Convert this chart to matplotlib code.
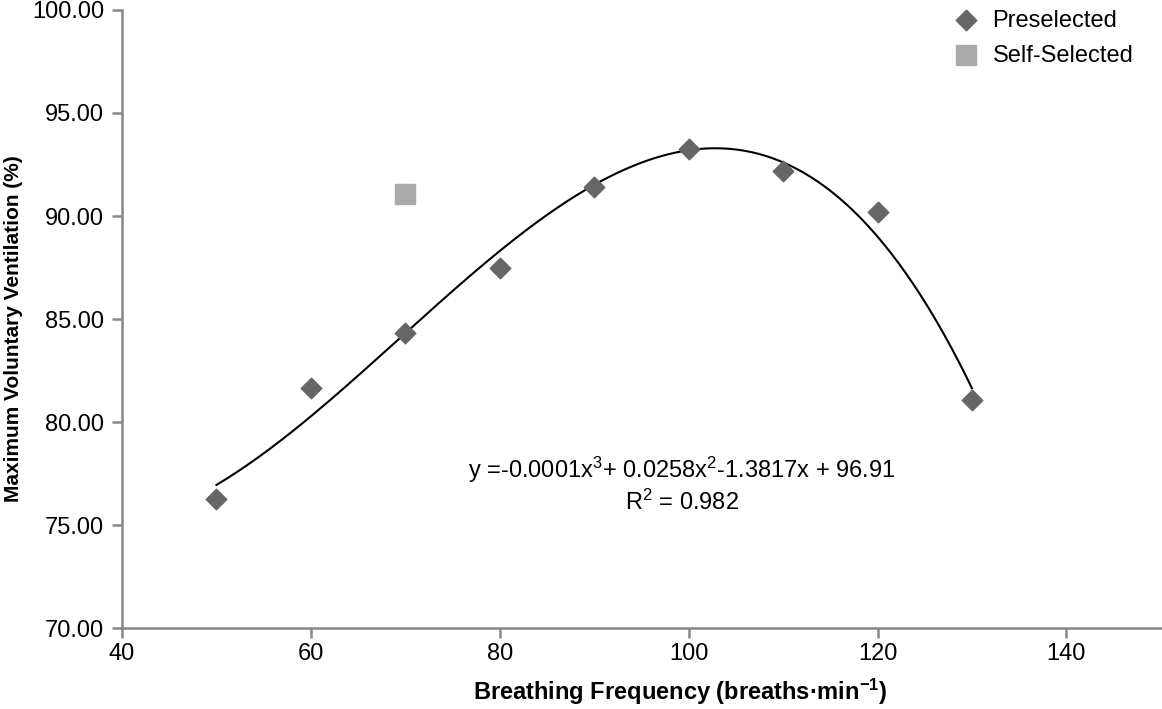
import numpy as np
import matplotlib.pyplot as plt

plt.rcParams['font.family'] = ['Liberation Sans', 'DejaVu Sans']
plt.rcParams['mathtext.fontset'] = 'custom'
plt.rcParams['mathtext.rm'] = 'Liberation Sans'
plt.rcParams['mathtext.it'] = 'Liberation Sans'
plt.rcParams['mathtext.bf'] = 'Liberation Sans:bold'

# Preselected breathing frequencies and % MVV
freq = [50, 60, 70, 80, 90, 100, 110, 120, 130]
mvv = [76.25, 81.65, 84.3, 87.5, 91.4, 93.25, 92.2, 90.2, 81.05]

# Self-selected point
self_freq = [70]
self_mvv = [91.05]

# cubic trendline through the preselected points
coef = np.polyfit(freq, mvv, 3)
xs = np.linspace(50, 130, 300)
ys = np.polyval(coef, xs)

fig = plt.figure(figsize=(11.62, 7.09), dpi=100)
ax = fig.add_axes([0.105, 0.114, 0.894, 0.872])

ax.plot(xs, ys, color='black', lw=1.5, zorder=2)
ax.scatter(freq, mvv, marker='D', s=110, color='#666666', label='Preselected', zorder=3)
ax.scatter(self_freq, self_mvv, marker='s', s=220, color='#aaaaaa', label='Self-Selected', zorder=3)

ax.set_xlim(40, 150)
ax.set_ylim(70, 100)
ax.set_xticks([40, 60, 80, 100, 120, 140])
ax.set_yticks([70, 75, 80, 85, 90, 95, 100])
ax.set_yticklabels(['%.2f' % v for v in [70, 75, 80, 85, 90, 95, 100]])

for s in ['top', 'right']:
    ax.spines[s].set_visible(False)
for s in ['left', 'bottom']:
    ax.spines[s].set_color('#888888')
    ax.spines[s].set_linewidth(1.8)
ax.tick_params(colors='#888888', width=1.8, length=7, labelcolor='black', labelsize=17)
ax.tick_params(axis='y', pad=6)

ax.set_xlabel(r'Breathing Frequency (breaths·min$\mathbf{^{-1}}$)', fontsize=17, fontweight='bold')
ax.set_ylabel('Maximum Voluntary Ventilation (%)', fontsize=15, fontweight='bold')
ax.xaxis.set_label_coords(0.537, -0.078)
ax.yaxis.set_label_coords(-0.095, 0.485)

ax.text(99.3, 76.95, 'y =-0.0001x$^3$+ 0.0258x$^2$-1.3817x + 96.91\nR$^2$ = 0.982',
        ha='center', va='center', fontsize=17, linespacing=1.2)

ax.legend(loc='upper right', frameon=False, fontsize=17, bbox_to_anchor=(0.994, 1.035),
          handletextpad=0.12, labelspacing=0.55)

fig.savefig('out.png', dpi=100)
